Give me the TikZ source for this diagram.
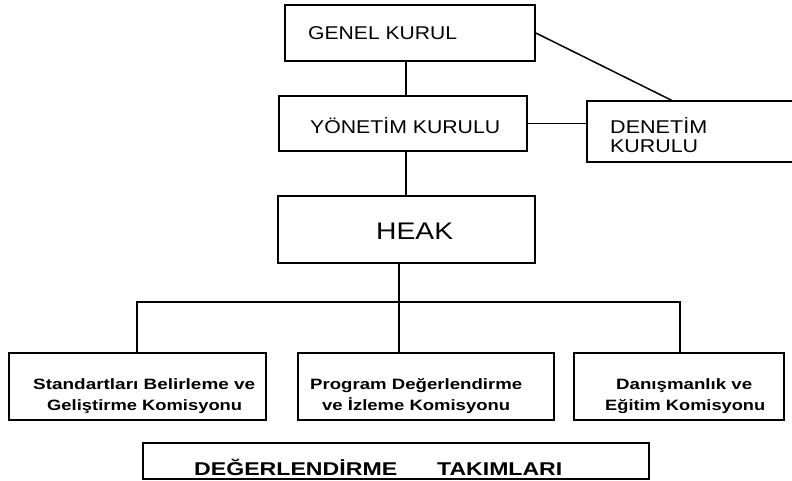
\documentclass[tikz,border=0pt]{standalone}
\usepackage{fontspec}
\usepackage{graphicx}
\setmainfont{Liberation Sans}
\newcommand{\fitw}[2]{\resizebox{#1}{\height}{#2}}
\begin{document}
\begin{tikzpicture}[x=1pt,y=-1pt,
  box/.style={draw=black, line width=1.6pt, rectangle, inner sep=0pt, fill=white},
  combox/.style={box, line width=2pt},
  takbox/.style={box, line width=2.6pt},
  toptext/.style={inner sep=0pt, anchor=base west, font=\fontsize{18.5}{22}\selectfont},
  heaktext/.style={inner sep=0pt, anchor=base west, font=\fontsize{24}{28}\selectfont},
  comtext/.style={inner sep=0pt, anchor=base west, font=\bfseries\fontsize{15}{18}\selectfont},
  taktext/.style={inner sep=0pt, anchor=base west, font=\bfseries\fontsize{18.5}{22}\selectfont},
  link/.style={line width=1.5pt},
  thicklink/.style={line width=2pt}]
\useasboundingbox (0,0) rectangle (792,481);
% boxes
\node[box, minimum width=250pt, minimum height=56pt] (genel) at (410,33) {};
\node[box, minimum width=248pt, minimum height=55pt] (yonetim) at (403,123.5) {};
\node[box, minimum width=207pt, minimum height=61pt] (denetim) at (690.5,131.5) {};
\node[box, minimum width=257pt, minimum height=67pt] (heak) at (406.5,229.5) {};
\node[combox, minimum width=257pt, minimum height=67pt] (stand) at (137.5,386.5) {};
\node[combox, minimum width=256pt, minimum height=67pt] (prog) at (426,386.5) {};
\node[combox, minimum width=210pt, minimum height=67pt] (danis) at (679,386.5) {};
\node[takbox, minimum width=506pt, minimum height=36pt] (takim) at (396,461) {};
% texts
\node[toptext] (genelt) at (308,39.3) {\fitw{149pt}{GENEL KURUL}};
\node[toptext] (yonetimt) at (310,133.3) {\fitw{190pt}{YÖNETİM KURULU}};
\node[toptext] (denetimt1) at (610,133.3) {\fitw{97pt}{DENETİM}};
\node[toptext] (denetimt2) at (610,152.7) {\fitw{88pt}{KURULU}};
\node[heaktext] (heakt) at (376,240) {\fitw{77pt}{HEAK}};
\node[comtext] (standt1) at (33,389) {\fitw{222pt}{Standartları Belirleme ve}};
\node[comtext] (standt2) at (47,410) {\fitw{195pt}{Geliştirme Komisyonu}};
\node[comtext] (progt1) at (310,389.5) {\fitw{212pt}{Program Değerlendirme}};
\node[comtext] (progt2) at (322,410) {\fitw{188pt}{ve İzleme Komisyonu}};
\node[comtext] (danist1) at (616,389.5) {\fitw{136pt}{Danışmanlık ve}};
\node[comtext] (danist2) at (605,410) {\fitw{160pt}{Eğitim Komisyonu}};
\node[taktext] (takimt1) at (194,475) {\fitw{203pt}{DEĞERLENDİRME}};
\node[taktext] (takimt2) at (437,475) {\fitw{125pt}{TAKIMLARI}};
% connectors
\coordinate (bar) at (399,302);
\coordinate (dtop) at (673,101);
\draw[link] (genel.south -| 406,0) -- (yonetim.north -| 406,0);
\draw[link] (yonetim.south -| 406,0) -- (heak.north -| 406,0);
\draw[link] (yonetim.east) -- (yonetim.east -| denetim.west);
\draw[link] (genel.east) -- (dtop);
\draw[thicklink] (heak.south -| bar) -- (prog.north -| bar);
\draw[link] (stand.north -| 137,0) -- (137,302) -- (680,302) -- (danis.north -| 680,0);
\end{tikzpicture}
\end{document}
